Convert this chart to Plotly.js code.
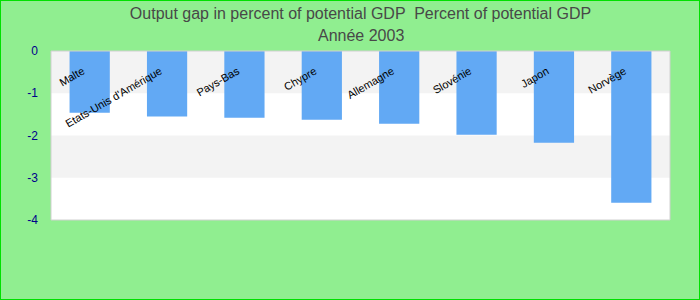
<!DOCTYPE html>
<html>
<head>
<meta charset="utf-8">
<script src="https://cdn.plot.ly/plotly-3.0.1.min.js"></script>
<style>
  html, body { margin: 0; padding: 0; background: #90EE90; }
  #wrap { position: relative; width: 700px; height: 300px; }
  #chart { width: 700px; height: 300px; }
  #frame { position: absolute; left: 0; top: 0; width: 700px; height: 300px; box-sizing: border-box; border: 1px solid #00e000; pointer-events: none; }
</style>
</head>
<body>
<div id="wrap"><div id="chart"></div><div id="frame"></div></div>
<script>
const countries = ["Malte", "Etats-Unis d'Amérique", "Pays-Bas", "Chypre", "Allemagne", "Slovénie", "Japon", "Norvège"];
const outputGap = [-1.46, -1.55, -1.58, -1.63, -1.72, -1.98, -2.17, -3.59];
const yTicks = [0, -1, -2, -3, -4];
const bandStarts = [0, -2];
const titleLine1 = 'Output gap in percent of potential GDP  Percent of potential GDP';
const titleLine2 = 'Année 2003';

const titleFont = {family: 'Liberation Sans, Arial, sans-serif', size: 16, color: '#484848'};

const bands = bandStarts.map(v => ({
  type: 'rect', xref: 'paper', yref: 'y', x0: 0, x1: 1, y0: v, y1: v - 1,
  fillcolor: '#f3f3f3', line: {width: 0}, layer: 'below'
}));
bands.push({type: 'rect', xref: 'paper', yref: 'paper', x0: 0, x1: 1, y0: 0, y1: 1,
  line: {color: '#d0d0d0', width: 1}, fillcolor: 'rgba(0,0,0,0)'});

const data = [{
  type: 'bar', x: countries, y: outputGap,
  marker: {color: '#62a9f4'}, hoverinfo: 'x+y'
}];

const layout = {
  width: 700, height: 300,
  paper_bgcolor: '#90EE90', plot_bgcolor: '#ffffff',
  margin: {l: 51, r: 30, t: 51, b: 80},
  title: {
    text: titleLine1, font: titleFont,
    x: 0.5, xanchor: 'center', xref: 'paper', yref: 'container', y: 0.957, yanchor: 'middle'
  },
  annotations: [{
    text: titleLine2, font: titleFont, showarrow: false,
    xref: 'paper', yref: 'paper', x: 0.5, y: 1.092, xanchor: 'center', yanchor: 'middle'
  }],
  bargap: 0.48,
  showlegend: false,
  xaxis: {
    type: 'category', anchor: 'free', position: 0.935,
    showline: false, showgrid: false, ticks: '', tickangle: -30,
    ticklabelshift: -7,
    tickfont: {family: 'Liberation Sans, Arial, sans-serif', size: 11, color: '#000000'},
    zeroline: false
  },
  yaxis: {
    range: [-4, 0], tickvals: yTicks, ticktext: yTicks.map(String),
    showgrid: false, zeroline: false, showline: false,
    tickfont: {family: 'Liberation Sans, Arial, sans-serif', size: 12, color: '#00008b'},
    ticklabelstandoff: 12
  },
  shapes: bands
};

Plotly.newPlot('chart', data, layout, {displayModeBar: false, staticPlot: true});
</script>
</body>
</html>
